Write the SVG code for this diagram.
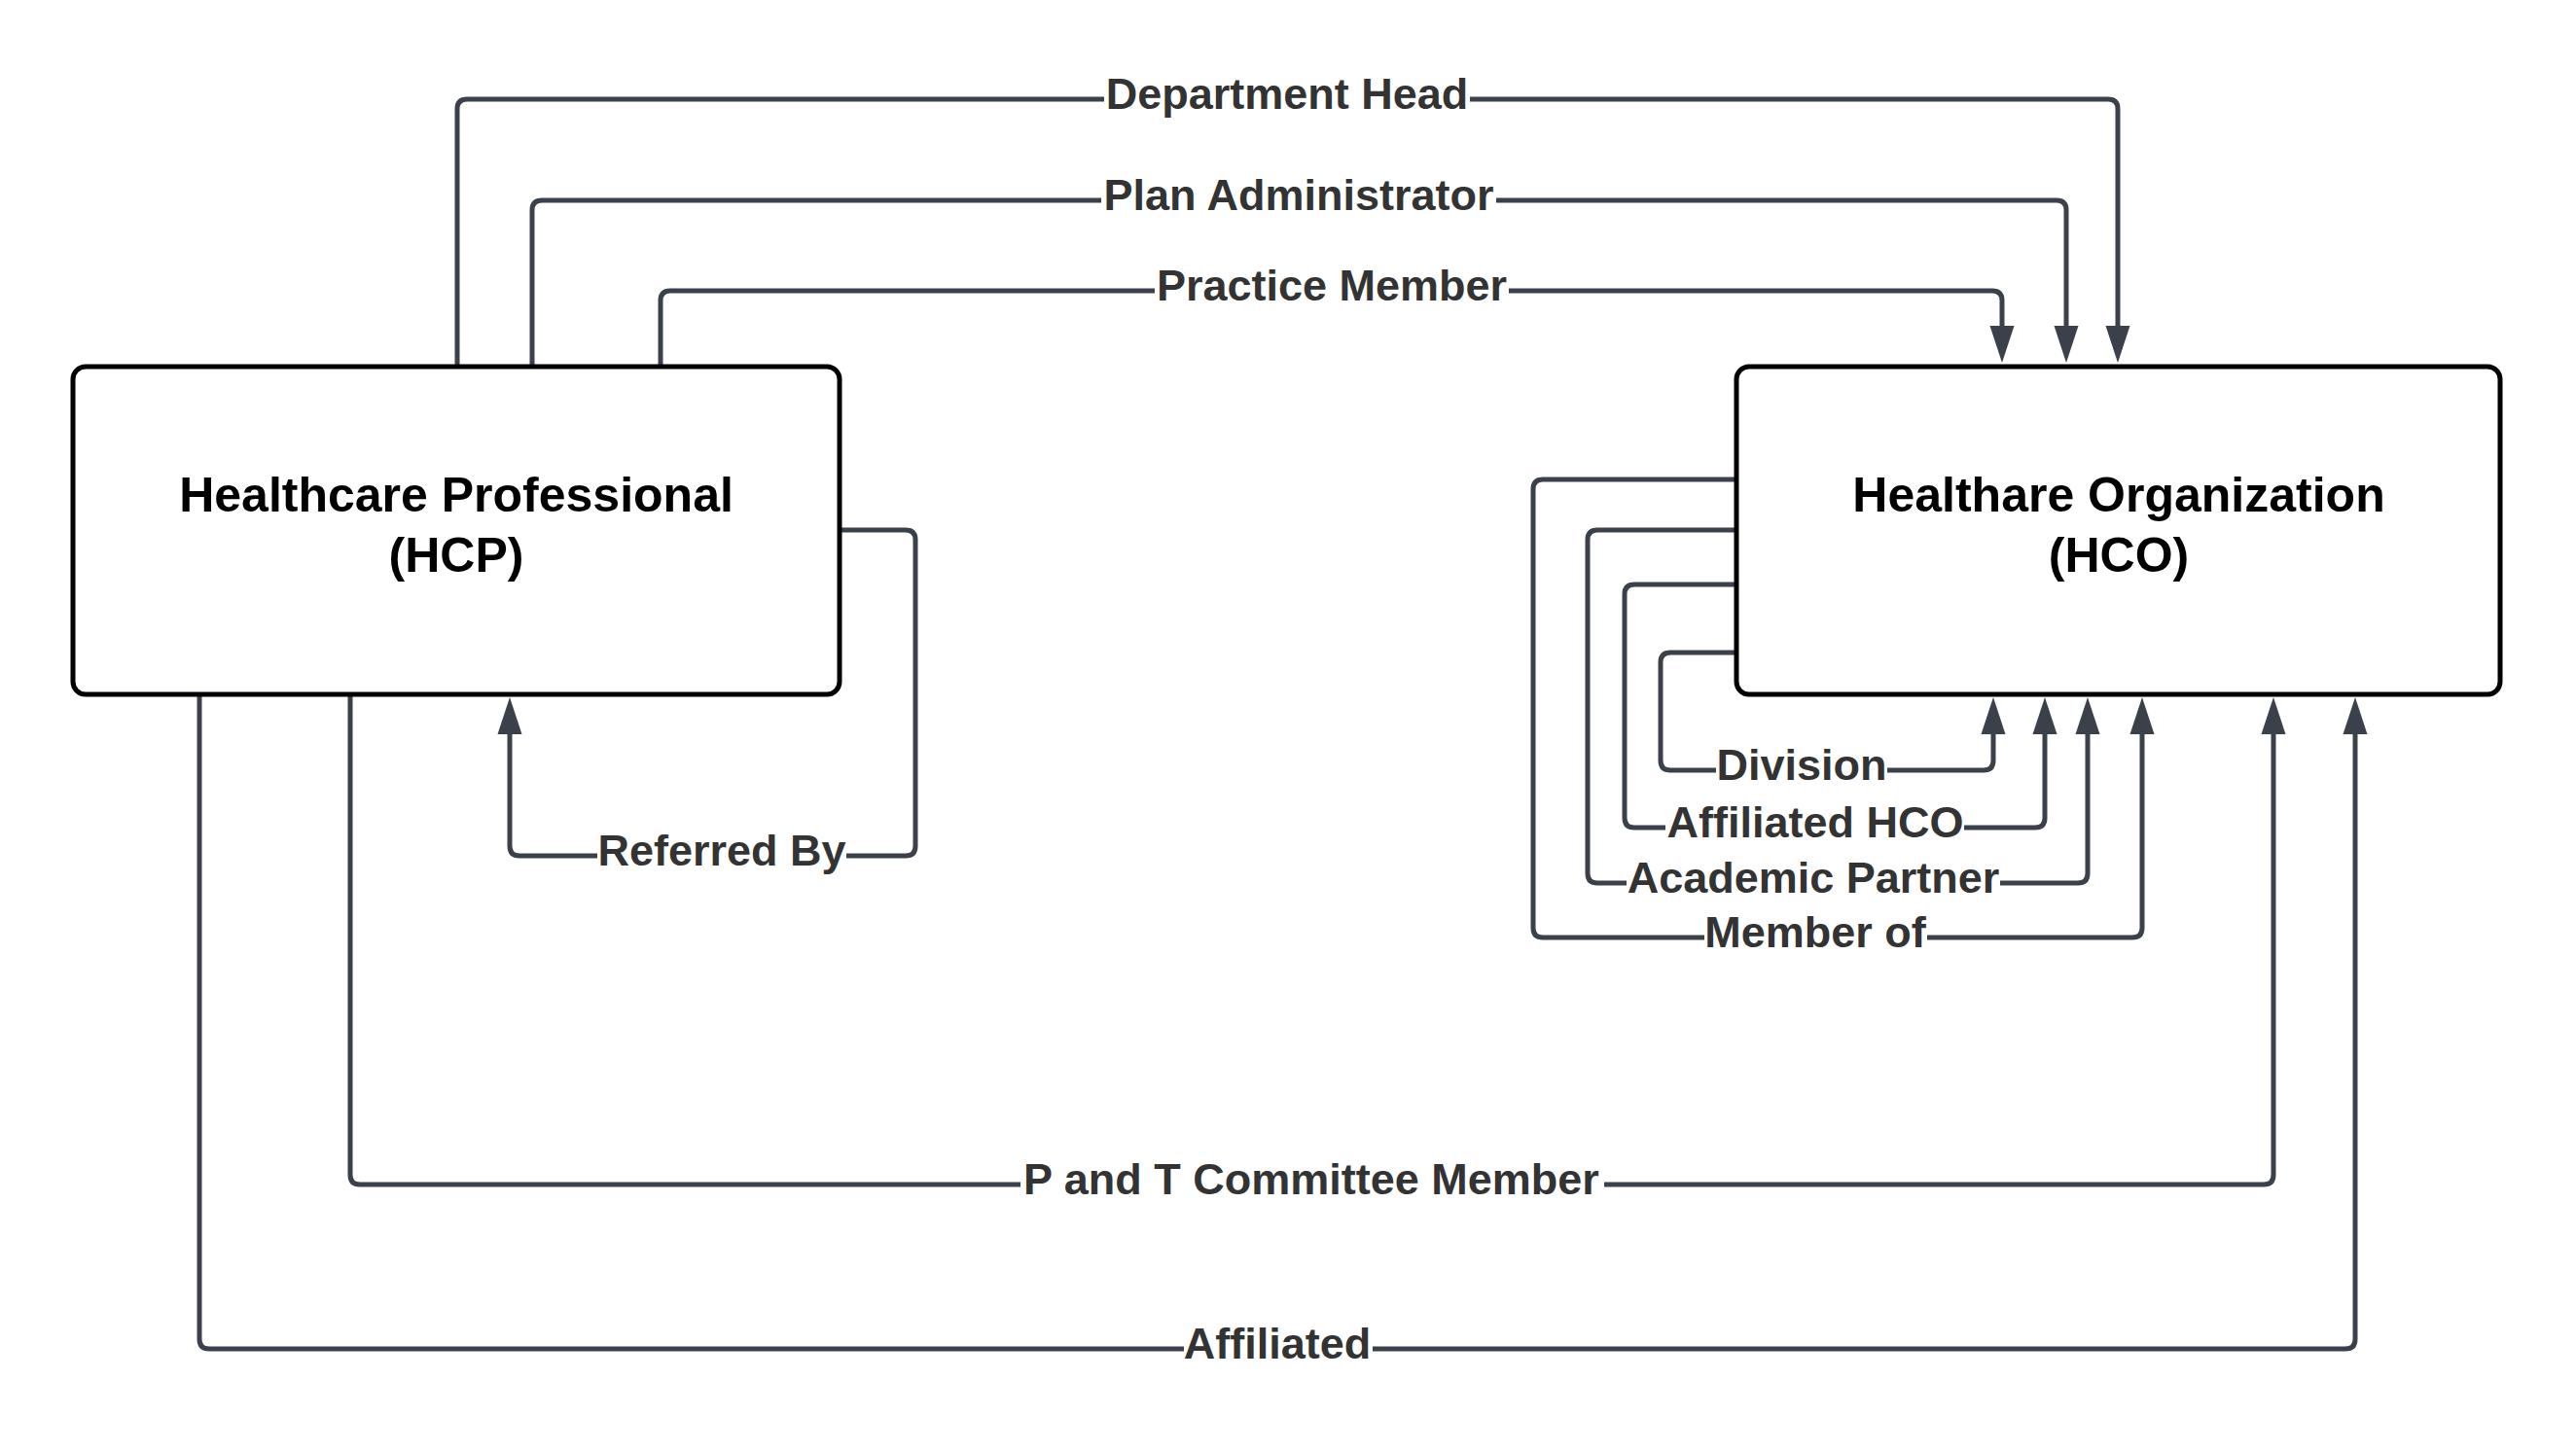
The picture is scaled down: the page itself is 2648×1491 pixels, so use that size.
<svg xmlns="http://www.w3.org/2000/svg" width="2648" height="1491" viewBox="0 0 2648 1491">
<defs>
<style>
.conn{fill:none;stroke:#3a414a;stroke-width:5;stroke-linejoin:round;marker-end:url(#arr)}
.lbl{font-family:"Liberation Sans",Arial,sans-serif;font-weight:bold;font-size:45px;fill:#333333;text-anchor:middle}
.lblbg{fill:#ffffff}
.node{fill:#ffffff;stroke:#000000;stroke-width:5}
.ntxt{font-family:"Liberation Sans",Arial,sans-serif;font-weight:bold;font-size:50px;fill:#000000;text-anchor:middle}
</style>
<marker id="arr" viewBox="0 0 38 25" refX="8" refY="12.5" markerWidth="38" markerHeight="25" orient="auto" markerUnits="userSpaceOnUse" overflow="visible">
<path d="M0,0 L38,12.5 L0,25 Z" fill="#3a414a"/>
</marker>
</defs>
<rect width="2648" height="1491" fill="#ffffff"/>
<g id="connectors">
<g id="e-department-head">
<path class="conn" d="M470,377 V112 Q470,102 480,102 H2167 Q2177,102 2177,112 V343"/>
<rect class="lblbg" x="1135" y="80" width="376" height="44"/>
<text class="lbl" x="1323" y="112">Department Head</text>
</g>
<g id="e-plan-admin">
<path class="conn" d="M547,377 V216 Q547,206 557,206 H2114 Q2124,206 2124,216 V343"/>
<rect class="lblbg" x="1132" y="184" width="406" height="44"/>
<text class="lbl" x="1335" y="216">Plan Administrator</text>
</g>
<g id="e-practice-member">
<path class="conn" d="M679,377 V309 Q679,299 689,299 H2048 Q2058,299 2058,309 V343"/>
<rect class="lblbg" x="1187" y="277" width="364" height="44"/>
<text class="lbl" x="1369" y="309">Practice Member</text>
</g>
<g id="e-referred-by">
<path class="conn" d="M863,545 H931 Q941,545 941,555 V870 Q941,880 931,880 H534 Q524,880 524,870 V747"/>
<rect class="lblbg" x="614" y="858" width="256" height="44"/>
<text class="lbl" x="742" y="890">Referred By</text>
</g>
<g id="e-division">
<path class="conn" d="M1785,671 H1717 Q1707,671 1707,681 V782 Q1707,792 1717,792 H2039 Q2049,792 2049,782 V747"/>
<rect class="lblbg" x="1764" y="770" width="176" height="44"/>
<text class="lbl" x="1852" y="802">Division</text>
</g>
<g id="e-affiliated-hco">
<path class="conn" d="M1785,601 H1680 Q1670,601 1670,611 V841 Q1670,851 1680,851 H2092 Q2102,851 2102,841 V747"/>
<rect class="lblbg" x="1712" y="829" width="307" height="44"/>
<text class="lbl" x="1866" y="861">Affiliated HCO</text>
</g>
<g id="e-academic-partner">
<path class="conn" d="M1785,545 H1642 Q1632,545 1632,555 V898 Q1632,908 1642,908 H2136 Q2146,908 2146,898 V747"/>
<rect class="lblbg" x="1672" y="886" width="384" height="44"/>
<text class="lbl" x="1864" y="918">Academic Partner</text>
</g>
<g id="e-member-of">
<path class="conn" d="M1785,493 H1586 Q1576,493 1576,503 V954 Q1576,964 1586,964 H2192 Q2202,964 2202,954 V747"/>
<rect class="lblbg" x="1752" y="942" width="229" height="44"/>
<text class="lbl" x="1866" y="974">Member of</text>
</g>
<g id="e-pt-committee">
<path class="conn" d="M360,714 V1208 Q360,1218 370,1218 H2327 Q2337,1218 2337,1208 V747"/>
<rect class="lblbg" x="1049" y="1196" width="600" height="44"/>
<text class="lbl" x="1348" y="1228">P and T Committee Member</text>
</g>
<g id="e-affiliated">
<path class="conn" d="M205,714 V1377 Q205,1387 215,1387 H2411 Q2421,1387 2421,1377 V747"/>
<rect class="lblbg" x="1217" y="1365" width="194" height="44"/>
<text class="lbl" x="1313" y="1397">Affiliated</text>
</g>
</g>
<g id="node-hcp">
<rect class="node" x="75" y="377" width="788" height="337" rx="13" ry="13"/>
<text class="ntxt" x="469" y="526">Healthcare Professional</text>
<text class="ntxt" x="469" y="588">(HCP)</text>
</g>
<g id="node-hco">
<rect class="node" x="1785" y="377" width="785" height="337" rx="13" ry="13"/>
<text class="ntxt" x="2178" y="526">Healthare Organization</text>
<text class="ntxt" x="2178" y="588">(HCO)</text>
</g>
</svg>
